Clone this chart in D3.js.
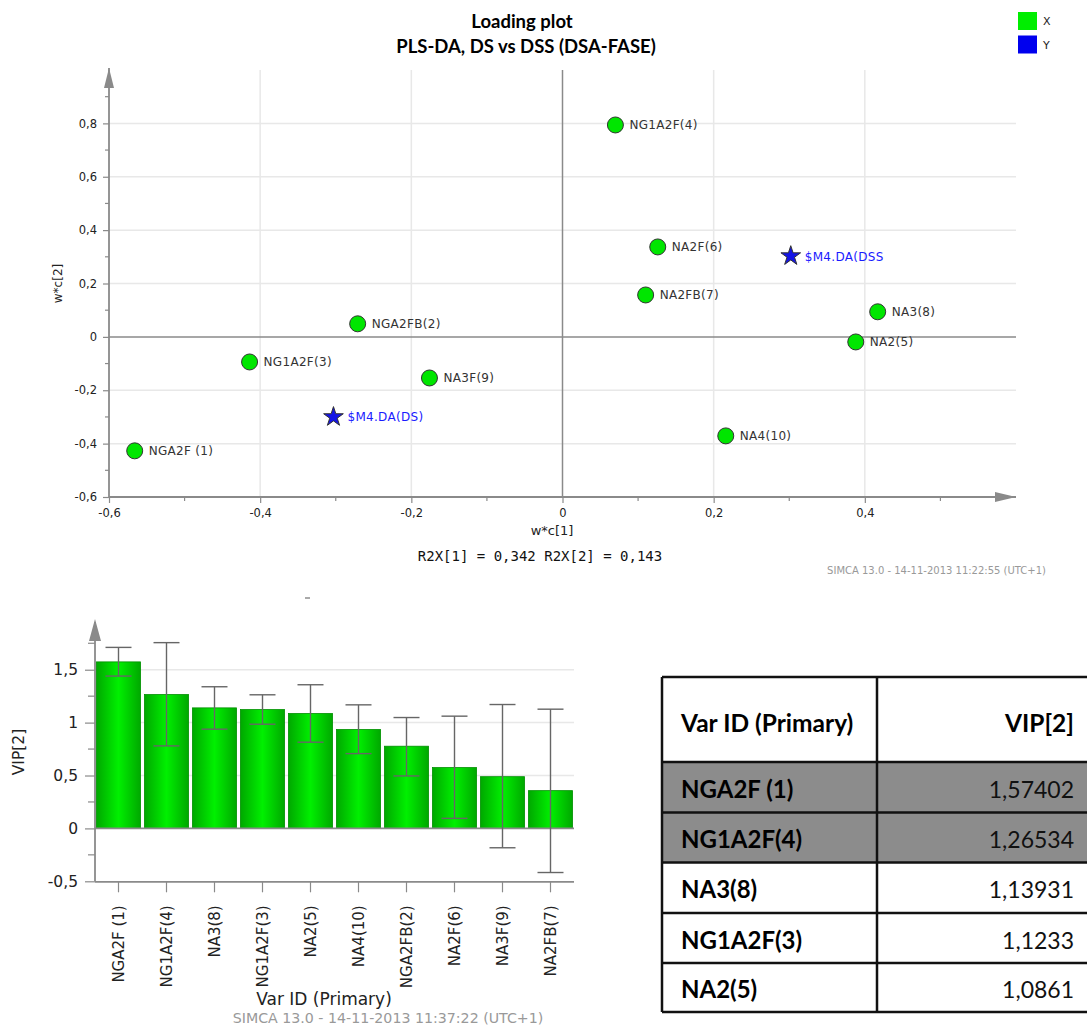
<!DOCTYPE html>
<html>
<head>
<meta charset="utf-8">
<script src="https://cdn.jsdelivr.net/npm/d3@7"></script>
<style>
  html, body { margin: 0; padding: 0; background: #fff; }
  svg { display: block; }
</style>
</head>
<body>
<svg id="chart" width="1087" height="1028"></svg>
<script>
// ---- Loading plot data (w*c[1], w*c[2]) ----
const loadingLabels = ["NGA2F (1)", "NGA2FB(2)", "NG1A2F(3)", "NG1A2F(4)", "NA2(5)", "NA2F(6)", "NA2FB(7)", "NA3(8)", "NA3F(9)", "NA4(10)", "$M4.DA(DS)", "$M4.DA(DSS"];
const loadingW1 = [-0.566, -0.271, -0.414, 0.070, 0.388, 0.126, 0.110, 0.417, -0.176, 0.216, -0.303, 0.302];
const loadingW2 = [-0.427, 0.049, -0.094, 0.794, -0.019, 0.337, 0.157, 0.094, -0.154, -0.371, -0.300, 0.303];
const loadingType = ["X", "X", "X", "X", "X", "X", "X", "X", "X", "X", "Y", "Y"];
const loadingTicksX = [-0.6, -0.4, -0.2, 0, 0.2, 0.4];
const loadingTicksY = [-0.6, -0.4, -0.2, 0, 0.2, 0.4, 0.6, 0.8];
const legendKeys = ["X", "Y"];

// ---- VIP[2] data ----
const vipVars = ["NGA2F (1)", "NG1A2F(4)", "NA3(8)", "NG1A2F(3)", "NA2(5)", "NA4(10)", "NGA2FB(2)", "NA2F(6)", "NA3F(9)", "NA2FB(7)"];
const vipValues = [1.57402, 1.26534, 1.13931, 1.1233, 1.0861, 0.935, 0.777, 0.575, 0.489, 0.357];
const vipErrHigh = [1.711, 1.756, 1.339, 1.263, 1.358, 1.168, 1.048, 1.061, 1.171, 1.127];
const vipErrLow = [1.440, 0.780, 0.938, 0.985, 0.815, 0.707, 0.496, 0.095, -0.183, -0.417];
const vipTicks = [-0.5, 0, 0.5, 1, 1.5];
const tableRowCount = 5;

const locale = d3.formatLocale({decimal: ",", thousands: ".", grouping: [3], currency: ["", ""], minus: "-"});
const fmt = locale.format("~g");

const svg = d3.select("#chart");
const GRID = "#e8e8e8", AXIS = "#8a8a8a", TXT = "#222";
const UI_FONT = "'DejaVu Sans', Verdana, sans-serif";
const HEAD_FONT = "Lato, 'Open Sans', sans-serif";

// ================= Loading plot =================
const x = d3.scaleLinear().domain([-0.6, 0.6]).range([109, 1016]);
const y = d3.scaleLinear().domain([-0.6, 1.0]).range([497, 70]);

svg.append("text").attr("x", 522).attr("y", 28).attr("text-anchor", "middle")
  .attr("font-family", HEAD_FONT).attr("font-weight", "bold").attr("font-size", 18.5).attr("fill", "#000")
  .text("Loading plot");
svg.append("text").attr("x", 526).attr("y", 53).attr("text-anchor", "middle")
  .attr("font-family", HEAD_FONT).attr("font-weight", "bold").attr("font-size", 18.5).attr("fill", "#000")
  .text("PLS-DA, DS vs DSS (DSA-FASE)");

// legend
const legendColor = {X: "#00ee00", Y: "#0000ee"};
const lg = svg.append("g").selectAll("g").data(legendKeys).join("g")
  .attr("transform", (d, i) => `translate(1018,${12 + i * 23.5})`);
lg.append("rect").attr("width", 19).attr("height", 18).attr("fill", d => legendColor[d]);
lg.append("text").attr("x", 25).attr("y", 13).attr("font-family", UI_FONT).attr("font-size", 11).attr("fill", TXT).text(d => d);

// grid
const gTop = svg.append("g");
gTop.selectAll("line.gx").data(loadingTicksX.filter(d => d !== 0 && d !== -0.6)).join("line")
  .attr("x1", d => x(d)).attr("x2", d => x(d)).attr("y1", y(1.0)).attr("y2", y(-0.6))
  .attr("stroke", GRID).attr("stroke-width", 1.5);
gTop.selectAll("line.gy").data(loadingTicksY.filter(d => d !== 0 && d !== -0.6)).join("line")
  .attr("x1", x(-0.6)).attr("x2", x(0.6)).attr("y1", d => y(d)).attr("y2", d => y(d))
  .attr("stroke", GRID).attr("stroke-width", 1.5);

// zero lines
gTop.append("line").attr("x1", x(0)).attr("x2", x(0)).attr("y1", y(1.0)).attr("y2", y(-0.6)).attr("stroke", AXIS).attr("stroke-width", 1.5);
gTop.append("line").attr("x1", x(-0.6)).attr("x2", x(0.6)).attr("y1", y(0)).attr("y2", y(0)).attr("stroke", AXIS).attr("stroke-width", 1.5);

// axes
const xAxis = d3.axisBottom(x).tickValues(loadingTicksX).tickFormat(fmt).tickSize(6).tickPadding(6);
const gx = gTop.append("g").attr("transform", `translate(0,${y(-0.6)})`).call(xAxis);
const yAxis = d3.axisLeft(y).tickValues(loadingTicksY).tickFormat(fmt).tickSize(6).tickPadding(6);
const gy = gTop.append("g").attr("transform", `translate(${x(-0.6)},0)`).call(yAxis);
[gx, gy].forEach(g => {
  g.select(".domain").remove();
  g.selectAll(".tick line").attr("stroke", AXIS).attr("stroke-width", 1.2);
  g.selectAll(".tick text").attr("font-family", UI_FONT).attr("font-size", 11.5).attr("fill", TXT);
});
// minor ticks
const minorX = d3.range(-0.5, 0.6, 0.2);
gTop.selectAll("line.mx").data(minorX).join("line")
  .attr("x1", d => x(d)).attr("x2", d => x(d)).attr("y1", y(-0.6)).attr("y2", y(-0.6) + 4)
  .attr("stroke", AXIS).attr("stroke-width", 1.2);
const minorY = d3.range(-0.5, 1.0, 0.2);
gTop.selectAll("line.my").data(minorY).join("line")
  .attr("x1", x(-0.6) - 4).attr("x2", x(-0.6)).attr("y1", d => y(d)).attr("y2", d => y(d))
  .attr("stroke", AXIS).attr("stroke-width", 1.2);

gTop.append("line").attr("x1", x(-0.6)).attr("x2", x(-0.6)).attr("y1", y(1.0) - 2).attr("y2", y(-0.6)).attr("stroke", AXIS).attr("stroke-width", 1.8);
gTop.append("line").attr("x1", x(-0.6)).attr("x2", x(0.6)).attr("y1", y(-0.6)).attr("y2", y(-0.6)).attr("stroke", AXIS).attr("stroke-width", 1.8);
gTop.append("path").attr("d", `M${x(-0.6) - 5},${y(1.0) + 18} L${x(-0.6)},${y(1.0) - 2} L${x(-0.6) + 5},${y(1.0) + 18} Z`).attr("fill", AXIS);
gTop.append("path").attr("d", `M${x(0.6) - 21},${y(-0.6) - 5} L${x(0.6)},${y(-0.6)} L${x(0.6) - 21},${y(-0.6) + 5} Z`).attr("fill", AXIS);

// axis titles
svg.append("text").attr("transform", `translate(62,${y(0.2)}) rotate(-90)`).attr("text-anchor", "middle")
  .attr("font-family", UI_FONT).attr("font-size", 12).attr("fill", TXT).text("w*c[2]");
svg.append("text").attr("x", 552).attr("y", 535).attr("text-anchor", "middle")
  .attr("font-family", UI_FONT).attr("font-size", 13).attr("fill", TXT).text("w*c[1]");
svg.append("text").attr("x", 540).attr("y", 561).attr("text-anchor", "middle")
  .attr("font-family", "'DejaVu Sans Mono', 'Liberation Mono', monospace").attr("font-size", 14).attr("fill", "#111")
  .text("R2X[1] = 0,342 R2X[2] = 0,143");
svg.append("text").attr("x", 1046).attr("y", 574).attr("text-anchor", "end")
  .attr("font-family", UI_FONT).attr("font-size", 10).attr("fill", "#999")
  .text("SIMCA 13.0 - 14-11-2013 11:22:55 (UTC+1)");

// points
const pts = loadingLabels.map((l, i) => ({label: l, w1: loadingW1[i], w2: loadingW2[i], type: loadingType[i]}));
const gp = svg.append("g");
gp.selectAll("circle").data(pts.filter(d => d.type === "X")).join("circle")
  .attr("cx", d => x(d.w1)).attr("cy", d => y(d.w2)).attr("r", 8)
  .attr("fill", "#00e600").attr("stroke", "#333").attr("stroke-width", 1);
gp.selectAll("path.star").data(pts.filter(d => d.type === "Y")).join("path")
  .attr("class", "star")
  .attr("transform", d => `translate(${x(d.w1)},${y(d.w2)})`)
  .attr("d", d3.symbol().type(d3.symbolStar).size(120))
  .attr("fill", "#1414e6").attr("stroke", "#333").attr("stroke-width", 1);
gp.selectAll("text").data(pts).join("text")
  .attr("x", d => x(d.w1) + 14).attr("y", d => y(d.w2) + 4.5)
  .attr("font-family", UI_FONT).attr("font-size", 12).attr("letter-spacing", 0.3)
  .attr("fill", d => d.type === "X" ? "#333" : "#1a1aff")
  .text(d => d.label);

// small stray mark between panels
svg.append("line").attr("x1", 305).attr("x2", 310).attr("y1", 598).attr("y2", 598).attr("stroke", "#555").attr("stroke-width", 1);

// ================= VIP bar chart =================
const bx = d3.scaleBand().domain(vipVars).range([94.5, 574.5]).paddingInner(0.08).paddingOuter(0.04);
const by = d3.scaleLinear().domain([-0.5, 1.97]).range([881.3, 620]);

const defs = svg.append("defs");
const grad = defs.append("linearGradient").attr("id", "barGrad").attr("x1", "0%").attr("x2", "100%");
grad.append("stop").attr("offset", "0%").attr("stop-color", "#00a800");
grad.append("stop").attr("offset", "50%").attr("stop-color", "#00f000");
grad.append("stop").attr("offset", "100%").attr("stop-color", "#00a800");

const gb = svg.append("g");
gb.selectAll("line.grid").data(vipTicks.filter(d => d > 0)).join("line")
  .attr("x1", 95).attr("x2", 574).attr("y1", d => by(d)).attr("y2", d => by(d))
  .attr("stroke", GRID).attr("stroke-width", 1.5);

const vip = vipVars.map((v, i) => ({v, val: vipValues[i], lo: vipErrLow[i], hi: vipErrHigh[i]}));
gb.selectAll("rect.bar").data(vip).join("rect")
  .attr("x", d => bx(d.v)).attr("width", bx.bandwidth())
  .attr("y", d => by(d.val)).attr("height", d => by(0) - by(d.val))
  .attr("fill", "url(#barGrad)").attr("stroke", "#009000").attr("stroke-width", 0.8);

gb.append("line").attr("x1", 95).attr("x2", 574).attr("y1", by(0)).attr("y2", by(0)).attr("stroke", AXIS).attr("stroke-width", 1.8);

// error bars
const eb = gb.selectAll("g.err").data(vip).join("g").attr("stroke", "#666").attr("stroke-width", 1.4);
eb.append("line").attr("x1", d => bx(d.v) + bx.bandwidth() / 2).attr("x2", d => bx(d.v) + bx.bandwidth() / 2)
  .attr("y1", d => by(d.hi)).attr("y2", d => by(d.lo));
eb.append("line").attr("x1", d => bx(d.v) + bx.bandwidth() / 2 - 13).attr("x2", d => bx(d.v) + bx.bandwidth() / 2 + 13)
  .attr("y1", d => by(d.hi)).attr("y2", d => by(d.hi));
eb.append("line").attr("x1", d => bx(d.v) + bx.bandwidth() / 2 - 13).attr("x2", d => bx(d.v) + bx.bandwidth() / 2 + 13)
  .attr("y1", d => by(d.lo)).attr("y2", d => by(d.lo));

// axes
const byAxis = d3.axisLeft(by).tickValues(vipTicks).tickFormat(fmt).tickSize(10).tickPadding(7);
const gby = gb.append("g").attr("transform", "translate(95,0)").call(byAxis);
gby.select(".domain").remove();
gby.selectAll(".tick line").attr("stroke", AXIS).attr("stroke-width", 1.2);
gby.selectAll(".tick text").attr("font-family", UI_FONT).attr("font-size", 15.5).attr("fill", TXT);
gb.selectAll("line.minor").data(d3.range(-0.25, 1.8, 0.5)).join("line")
  .attr("x1", 88).attr("x2", 95).attr("y1", d => by(d)).attr("y2", d => by(d))
  .attr("stroke", AXIS).attr("stroke-width", 1.2);
gb.append("line").attr("x1", 95).attr("x2", 95).attr("y1", by(-0.5)).attr("y2", 622).attr("stroke", AXIS).attr("stroke-width", 1.8);
gb.append("path").attr("d", "M89,641 L95,619 L101,641 Z").attr("fill", AXIS);

const bxAxis = d3.axisBottom(bx).tickSize(11).tickPadding(6);
const gbx = gb.append("g").attr("transform", `translate(0,${by(-0.5)})`).call(bxAxis);
gbx.select(".domain").attr("stroke", AXIS).attr("stroke-width", 1.8).attr("d", "M95,0.5H574");
gbx.selectAll(".tick line").attr("stroke", AXIS).attr("stroke-width", 1.2);
gbx.selectAll(".tick text")
  .attr("font-family", UI_FONT).attr("font-size", 15).attr("fill", TXT)
  .attr("transform", "rotate(-90)").attr("text-anchor", "end")
  .attr("dy", "0.36em").attr("x", -24).attr("y", 0);

svg.append("text").attr("transform", "translate(24,752) rotate(-90)").attr("text-anchor", "middle")
  .attr("font-family", UI_FONT).attr("font-size", 15.5).attr("fill", TXT).text("VIP[2]");
svg.append("text").attr("x", 324).attr("y", 1005).attr("text-anchor", "middle")
  .attr("font-family", UI_FONT).attr("font-size", 17).attr("fill", TXT).text("Var ID (Primary)");
svg.append("text").attr("x", 388).attr("y", 1023).attr("text-anchor", "middle")
  .attr("font-family", UI_FONT).attr("font-size", 14.2).attr("fill", "#999")
  .text("SIMCA 13.0 - 14-11-2013 11:37:22 (UTC+1)");

// ================= VIP table =================
const tbl = svg.append("g");
const colX = [662, 877, 1100];
const rowY = [677, 762, 812.5, 862.5, 913, 963, 1012];
const rows = vip.slice(0, tableRowCount);
tbl.selectAll("rect.hl").data(rows.slice(0, 2)).join("rect")
  .attr("x", colX[0]).attr("y", (d, i) => rowY[i + 1]).attr("width", colX[2] - colX[0]).attr("height", (d, i) => rowY[i + 2] - rowY[i + 1])
  .attr("fill", "#8c8c8c");
tbl.selectAll("line.h").data(rowY).join("line")
  .attr("x1", colX[0]).attr("x2", colX[2]).attr("y1", d => d).attr("y2", d => d)
  .attr("stroke", "#111").attr("stroke-width", 2.5);
tbl.selectAll("line.v").data(colX.slice(0, 2)).join("line")
  .attr("x1", d => d).attr("x2", d => d).attr("y1", rowY[0]).attr("y2", rowY[rowY.length - 1])
  .attr("stroke", "#111").attr("stroke-width", 2.5);

tbl.append("text").attr("x", 681).attr("y", 731.5).attr("font-family", HEAD_FONT).attr("font-weight", "bold").attr("font-size", 24.5).attr("fill", "#000").text("Var ID (Primary)");
tbl.append("text").attr("x", 1074).attr("y", 731.5).attr("text-anchor", "end").attr("font-family", HEAD_FONT).attr("font-weight", "bold").attr("font-size", 24.5).attr("fill", "#000").text("VIP[2]");
tbl.selectAll("text.name").data(rows).join("text")
  .attr("x", 681).attr("y", (d, i) => (rowY[i + 1] + rowY[i + 2]) / 2 + 10.5)
  .attr("font-family", HEAD_FONT).attr("font-weight", "bold").attr("font-size", 24).attr("fill", "#000")
  .text(d => d.v);
tbl.selectAll("text.val").data(rows).join("text")
  .attr("x", 1074).attr("y", (d, i) => (rowY[i + 1] + rowY[i + 2]) / 2 + 10.5).attr("text-anchor", "end")
  .attr("font-family", HEAD_FONT).attr("font-size", 23).attr("fill", "#111")
  .text(d => String(d.val).replace(".", ","));
</script>
</body>
</html>
